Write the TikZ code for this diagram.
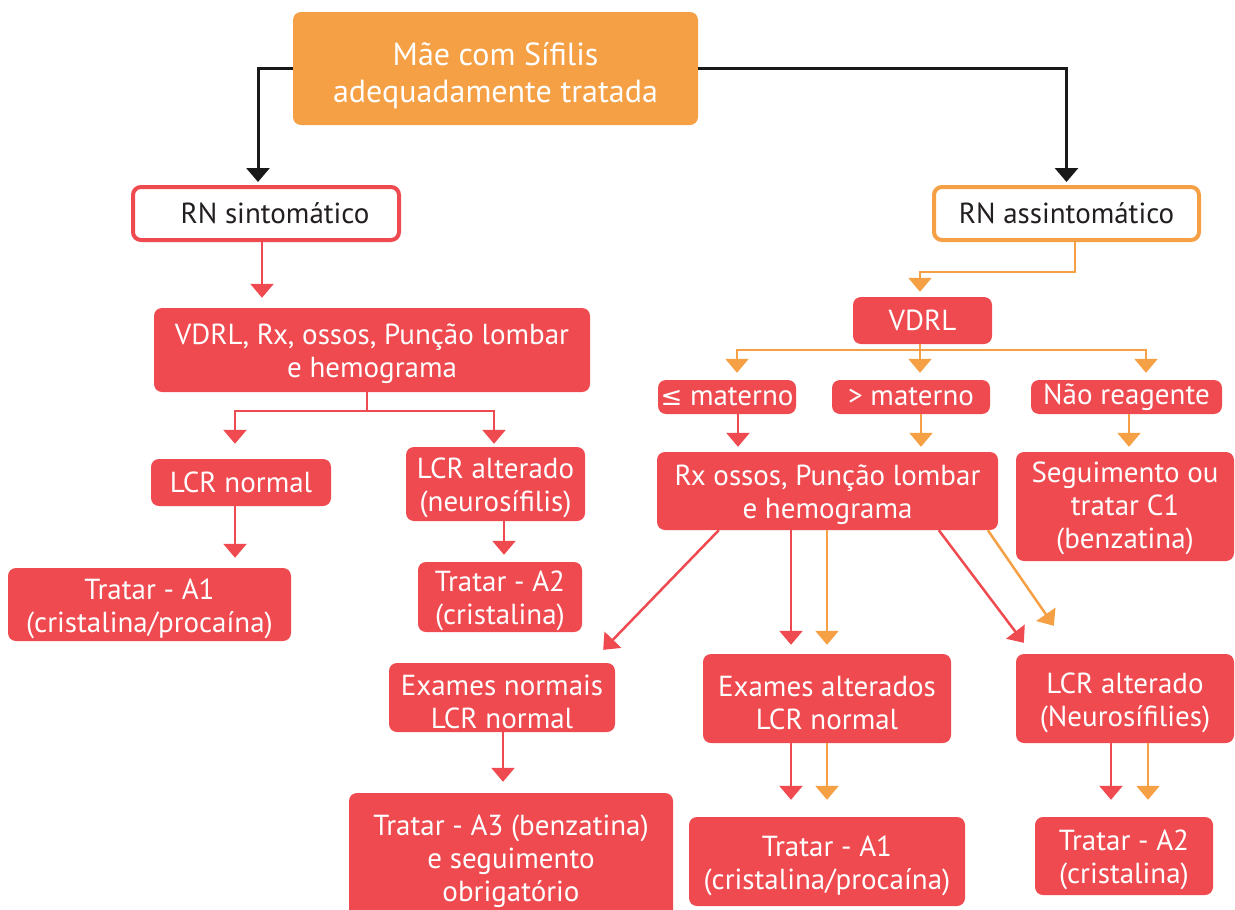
\documentclass[tikz,border=0pt]{standalone}
\usepackage{fontspec}
\setmainfont{PT Sans}
\newfontfamily\symfont{DejaVu Sans}
\usetikzlibrary{arrows.meta}
\definecolor{boxred}{HTML}{EE4A4F}
\definecolor{boxorange}{HTML}{F6A045}
\definecolor{inkdark}{HTML}{231F20}
% strut on the first line of a multi-line label, to set the block a little lower
\newcommand{\firstline}[1][29pt]{\rule{0pt}{#1}}
\begin{document}
\begin{tikzpicture}[x=1pt,y=-1pt,
  box/.style={rectangle, rounded corners=8pt, align=center, inner sep=0pt,
    font=\fontsize{29}{33}\selectfont},
  redbox/.style={box, fill=boxred, text=white},
  orangebox/.style={box, fill=boxorange, text=white},
  redframe/.style={box, fill=white, draw=boxred, line width=4pt, text=inkdark},
  orangeframe/.style={box, fill=white, draw=boxorange, line width=4pt, text=inkdark},
  tip/.style={-{Triangle[width=23pt,length=14pt]}},
  blackline/.style={draw=black!90, line width=3pt},
  redline/.style={draw=boxred, line width=2.5pt},
  orangeline/.style={draw=boxorange, line width=2.5pt},
  blackarrow/.style={blackline, tip},
  redarrow/.style={redline, tip},
  orangearrow/.style={orangeline, tip},
]
\clip (0,0) rectangle (1235,910);
\fill[white] (0,0) rectangle (1235,910);

% ---------- top ----------
\node[orangebox, minimum width=405, minimum height=113, font=\fontsize{32}{37}\selectfont]
  (mae) at (495.5,68.5) {\firstline[38pt]Mãe com Sífilis\\adequadamente tratada};

\node[redframe, minimum width=266, minimum height=53, font=\fontsize{29}{33}\selectfont]
  (rns) at (266,213.5) {\hspace*{18pt}RN sintomático};
\node[orangeframe, minimum width=265, minimum height=53, font=\fontsize{29}{33}\selectfont]
  (rna) at (1066.5,213.5) {RN assintomático};

% ---------- left branch ----------
\node[redbox, minimum width=436, minimum height=84] (vdrlA) at (372,350)
  {\firstline VDRL, Rx, ossos, Punção lombar\\e hemograma};
\node[redbox, minimum width=180, minimum height=47] (lcrn) at (241,482.5) {LCR normal};
\node[redbox, minimum width=179, minimum height=74] (lcra) at (495.5,484)
  {\firstline LCR alterado\\(neurosífilis)};
\node[redbox, minimum width=283, minimum height=73] (trA1) at (149.5,604.5)
  {\firstline Tratar - A1\\(cristalina/procaína)};
\node[redbox, minimum width=164, minimum height=70] (trA2) at (500,597)
  {\firstline Tratar - A2\\(cristalina)};

% ---------- right branch ----------
\node[redbox, minimum width=139, minimum height=47] (vdrlB) at (922.5,320.5) {VDRL};
\node[redbox, minimum width=138, minimum height=34] (le) at (727,397)
  {{\symfont\fontsize{26}{33}\selectfont ≤} materno};
\node[redbox, minimum width=158, minimum height=34] (gt) at (911,397) {> materno};
\node[redbox, minimum width=191, minimum height=34] (nr) at (1126.5,397) {Não reagente};
\node[redbox, minimum width=341, minimum height=78] (rx) at (827.5,491)
  {\firstline Rx ossos, Punção lombar\\e hemograma};
\node[redbox, minimum width=218, minimum height=109] (seg) at (1125,506.5)
  {\firstline[25pt]Seguimento ou\\tratar C1\\(benzatina)};
\node[redbox, minimum width=226, minimum height=69] (exn) at (502,697.5)
  {\firstline Exames normais\\LCR normal};
\node[redbox, minimum width=248, minimum height=89] (exa) at (827,698.5)
  {\firstline Exames alterados\\LCR normal};
\node[redbox, minimum width=218, minimum height=89] (lcrb) at (1125,698.5)
  {\firstline LCR alterado\\(Neurosífilies)};
\node[redbox, minimum width=324, minimum height=128] (trA3) at (511,857)
  {\firstline Tratar - A3 (benzatina)\\e seguimento\\obrigatório};
\node[redbox, minimum width=276, minimum height=89] (trB1) at (827,861.5)
  {\firstline Tratar - A1\\(cristalina/procaína)};
\node[redbox, minimum width=178, minimum height=78] (trB2) at (1124,856)
  {\firstline Tratar - A2\\(cristalina)};

% ---------- junction points ----------
\coordinate (jA) at (367,411);
\coordinate (jB) at (1075,272);
\coordinate (jC) at (920,350);

% ---------- black connectors ----------
\draw[blackarrow, shorten >=3pt] (mae.west) -| ([xshift=-8pt]rns.north);
\draw[blackarrow, shorten >=3pt] (mae.east) -| (rna.north);

% ---------- left branch connectors ----------
\draw[redarrow, shorten >=10pt] ([xshift=-4pt]rns.south) -- ([xshift=-4pt]rns.south |- vdrlA.north);
\draw[redline] ([xshift=-5pt]vdrlA.south) -- (jA);
\draw[redarrow, shorten >=15pt] (jA) -| ([xshift=-6pt]lcrn.north);
\draw[redarrow, shorten >=3pt] (jA) -| ([xshift=-1.5pt]lcra.north);
\draw[redarrow, shorten >=10pt] ([xshift=-6pt]lcrn.south) -- ([xshift=-6pt]lcrn.south |- trA1.north);
\draw[redarrow, shorten >=7pt] ([xshift=8.5pt]lcra.south) -- ([xshift=8.5pt]lcra.south |- trA2.north);

% ---------- right branch connectors ----------
\draw[orangearrow, shorten >=5pt] ([xshift=8.5pt]rna.south) -- (jB) -| ([xshift=-2.5pt]vdrlB.north);
\draw[orangeline] ([xshift=-2.5pt]vdrlB.south) -- (jC);
\draw[orangearrow, shorten >=7pt] (jC) -| ([xshift=10pt]le.north);
\draw[orangearrow, shorten >=7pt] (jC) -- (jC |- gt.north);
\draw[orangearrow, shorten >=7pt] (jC) -| ([xshift=19.5pt]nr.north);

\draw[redarrow, shorten >=5pt] ([xshift=11pt]le.south) -- ([xshift=11pt]le.south |- rx.north);
\draw[orangearrow, shorten >=5pt] ([xshift=10pt]gt.south) -- ([xshift=10pt]gt.south |- rx.north);
\draw[orangearrow, shorten >=5pt] ([xshift=2.5pt]nr.south) -- ([xshift=2.5pt]nr.south |- seg.north);

\draw[redarrow] ([xshift=62pt]rx.south west) -- ([xshift=-12pt,yshift=13pt]exn.north east);
\draw[redarrow, shorten >=9pt] ([xshift=-36.5pt]rx.south) -- ([xshift=-36.5pt]rx.south |- exa.north);
\draw[orangearrow, shorten >=9pt] ([xshift=-0.5pt]rx.south) -- ([xshift=-0.5pt]rx.south |- exa.north);
\draw[redarrow] ([xshift=282pt]rx.south west) -- ([xshift=8pt,yshift=11pt]lcrb.north west);
\draw[orangearrow] ([xshift=331pt]rx.south west) -- ([xshift=38pt,yshift=28pt]lcrb.north west);

\draw[redarrow, shorten >=11pt] ([xshift=1pt]exn.south) -- ([xshift=1pt]exn.south |- trA3.north);
\draw[redarrow, shorten >=17pt] ([xshift=-36pt]exa.south) -- ([xshift=-36pt]exa.south |- trB1.north);
\draw[orangearrow, shorten >=17pt] (exa.south) -- (exa.south |- trB1.north);
\draw[redarrow, shorten >=17pt] ([xshift=-14pt]lcrb.south) -- ([xshift=-14pt]lcrb.south |- trB2.north);
\draw[orangearrow, shorten >=17pt] ([xshift=23pt]lcrb.south) -- ([xshift=23pt]lcrb.south |- trB2.north);
\end{tikzpicture}
\end{document}
